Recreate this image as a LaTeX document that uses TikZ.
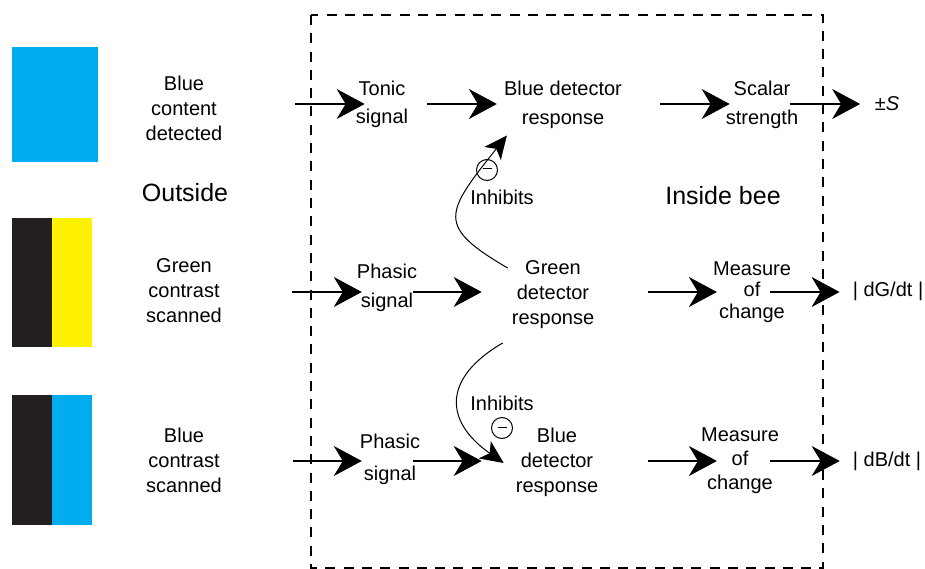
\documentclass[tikz,border=0pt]{standalone}
\usepackage{fontspec}
\setmainfont{Liberation Sans}
\usetikzlibrary{arrows.meta,calc}
\definecolor{beeblue}{HTML}{00AEEF}
\definecolor{beeyellow}{HTML}{FFF200}
\definecolor{beeblack}{HTML}{231F20}
\tikzset{
  lab/.style={inner sep=0pt, align=center, font=\fontsize{20}{25}\selectfont},
  big/.style={inner sep=0pt, font=\fontsize{25}{30}\selectfont},
  arr/.style={line width=1.3pt, -{Stealth[length=28pt,width=30pt,inset=9pt]}},
  carr/.style={line width=1pt, -{Stealth[length=23pt,width=21pt,inset=6pt]}},
  minuscirc/.style={circle, draw, line width=1pt, minimum size=21pt, inner sep=0pt},
}
\begin{document}
\begin{tikzpicture}[x=1pt,y=-1pt]
\useasboundingbox (0,0) rectangle (925,569);
% colour swatches
\fill[beeblue] (12,47) rectangle (98,162);
\fill[beeblack] (12,218) rectangle (52,347);
\fill[beeyellow] (52,218) rectangle (92,347);
\fill[beeblack] (12,395) rectangle (52,525);
\fill[beeblue] (52,395) rectangle (92,525);
% dashed box
\draw[line width=1.3pt, dash pattern=on 10pt off 8.3pt] (311,15) rectangle (823,568);
% row references
\coordinate (row1) at (0,104);
\coordinate (row2) at (0,292);
\coordinate (row3) at (0,461);
% outside texts
\node[lab] (t1) at (184,108.5) {Blue\\content\\detected};
\node[big] (outside) at (185,193) {Outside};
\node[lab] (t2) at (184,291) {Green\\contrast\\scanned};
\node[lab] (t3) at (184,460.5) {Blue\\contrast\\scanned};
% row 1
\node[lab, font=\fontsize{20}{28}\selectfont] (tonic) at (382,104) {Tonic\\signal};
\node[lab, font=\fontsize{20}{29}\selectfont] (bdr1) at (563,104.5) {Blue detector\\response};
\node[lab, font=\fontsize{20}{29}\selectfont] (scalar) at (762,104.5) {Scalar\\strength};
\node[lab] (pms) at (887,104) {±\textit{S}};
\node[big] (inside) at (723,196) {Inside bee};
% row 2
\node[lab, font=\fontsize{20}{29}\selectfont] (ph2) at (387,287.5) {Phasic\\signal};
\node[lab, font=\fontsize{20}{25}\selectfont] (gdr) at (553,295) {Green\\detector\\response};
\node[lab, font=\fontsize{20}{21.5}\selectfont] (mc2) at (752,292) {Measure\\of\\change};
\node[lab] (dg) at (888,291) {| dG/dt |};
% row 3
\node[lab, font=\fontsize{20}{32}\selectfont] (ph3) at (390,459) {Phasic\\signal};
\node[lab, font=\fontsize{20}{25}\selectfont] (bdr3) at (557,462) {Blue\\detector\\response};
\node[lab, font=\fontsize{20}{24}\selectfont] (mc3) at (740,461) {Measure\\of\\change};
\node[lab] (db) at (887,461) {| dB/dt |};
% inhibition labels
\node[lab] (inh1) at (502,197) {Inhibits};
\node[lab] (inh2) at (502,403) {Inhibits};
\node[minuscirc] (m1) at (487,170) {};
\node[minuscirc] (m2) at (502,428) {};
\draw[line width=1pt] ($(m1.center)+(-4.5,-1)$) -- ($(m1.center)+(4.5,-1)$);
\draw[line width=1pt] ($(m2.center)+(-4.5,-1)$) -- ($(m2.center)+(4.5,-1)$);
% row 1 arrows
\draw[arr] ($(t1.east |- row1)+(72.6,0)$) -- ($(tonic.west |- row1)+(9,0)$);
\draw[arr] ($(tonic.east |- row1)+(19,0)$) -- ($(bdr1.west |- row1)+(-7,0)$);
\draw[arr] ($(bdr1.east |- row1)+(38,0)$) -- ($(scalar.west |- row1)+(4,0)$);
\draw[arr] ($(scalar.east |- row1)+(-8,0)$) -- ($(pms.west |- row1)+(-14.5,0)$);
% row 2 arrows
\draw[arr] ($(t2.east |- row2)+(70,0)$) -- ($(ph2.west |- row2)+(5,0)$);
\draw[arr] ($(ph2.east |- row2)+(-4,0)$) -- ($(gdr.west |- row2)+(-30,0)$);
\draw[arr] ($(gdr.east |- row2)+(54,0)$) -- ($(mc2.west |- row2)+(4,0)$);
\draw[arr] ($(mc2.east |- row2)+(-21,0)$) -- ($(dg.west |- row2)+(-13,0)$);
% row 3 arrows
\draw[arr] ($(t3.east |- row3)+(71,0)$) -- ($(ph3.west |- row3)+(2,0)$);
\draw[arr] ($(ph3.east |- row3)+(-7,0)$) -- ($(bdr3.west |- row3)+(-34,0)$);
\draw[arr] ($(bdr3.east |- row3)+(50,0)$) -- ($(mc3.west |- row3)+(16,0)$);
\draw[arr] ($(mc3.east |- row3)+(-9,0)$) -- ($(db.west |- row3)+(-13,0)$);
% inhibition curves
\draw[carr] ($(gdr.west)+(-4,-27)$) .. controls +(-72,-42) and +(-62,78) .. ($(bdr1.west)+(3,31)$);
\draw[carr] ($(gdr.west)+(-9,48)$) .. controls +(-60,35) and +(-60,-42) .. ($(bdr3.west)+(-12,1)$);
\end{tikzpicture}
\end{document}
